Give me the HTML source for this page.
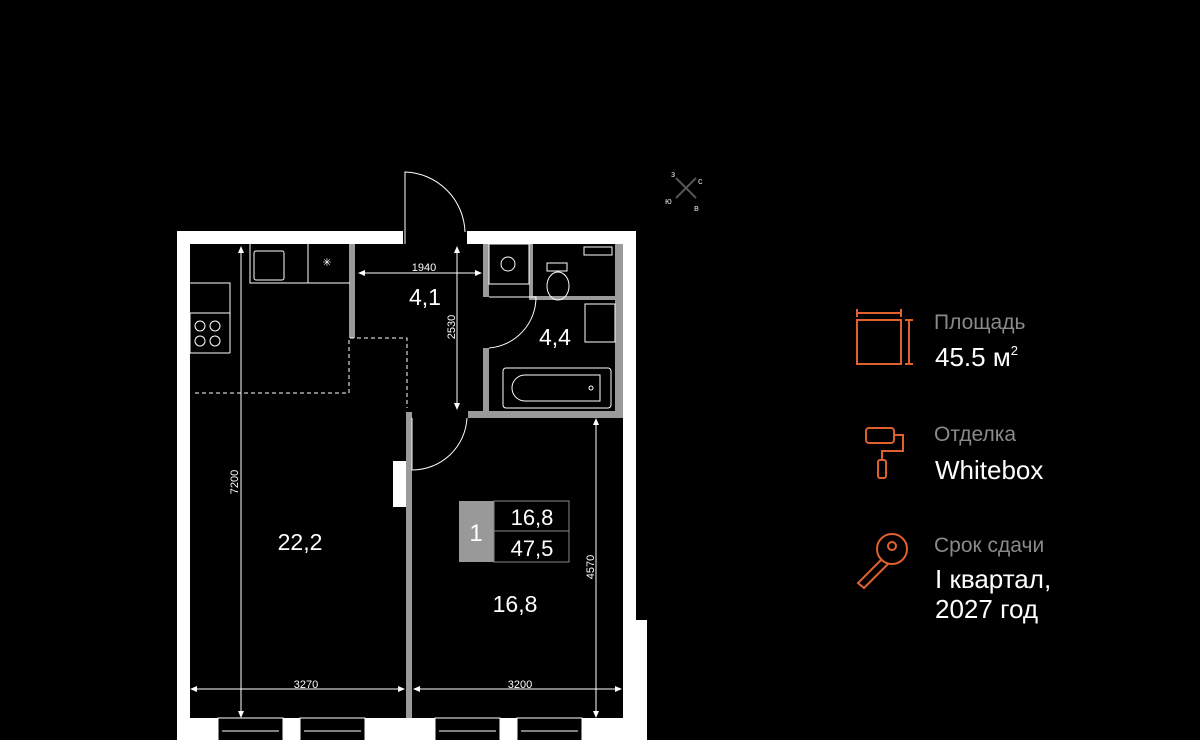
<!DOCTYPE html>
<html><head><meta charset="utf-8"><style>
html,body{margin:0;padding:0;background:#000;width:1200px;height:740px;overflow:hidden}
svg{display:block}
text{font-family:"Liberation Sans",sans-serif}
</style></head><body>
<svg width="1200" height="740" viewBox="0 0 1200 740" xmlns="http://www.w3.org/2000/svg">
<rect width="1200" height="740" fill="#000"/>
<g fill="#fff">
<rect x="177" y="231" width="226" height="13"/>
<rect x="467" y="231" width="169" height="13"/>
<rect x="177" y="231" width="13" height="509"/>
<rect x="623" y="231" width="13" height="389"/>
<rect x="623" y="620" width="24" height="120"/>
<rect x="177" y="718" width="470" height="22"/>
<rect x="393" y="461" width="13" height="46"/>
</g>
<g fill="#000" stroke="#fff" stroke-width="1">
<rect x="218" y="718" width="65" height="24"/>
<rect x="300" y="718" width="65" height="24"/>
<rect x="435" y="718" width="65" height="24"/>
<rect x="517" y="718" width="65" height="24"/>
<line x1="222" y1="731" x2="279" y2="731"/><line x1="304" y1="731" x2="361" y2="731"/>
<line x1="439" y1="731" x2="496" y2="731"/><line x1="521" y1="731" x2="578" y2="731"/>
</g>
<g fill="#9a9a9a">
<rect x="406" y="412" width="6" height="306"/>
<rect x="349" y="244" width="6" height="94"/>
<rect x="483" y="244" width="6" height="53"/>
<rect x="483" y="348" width="6" height="64"/>
<rect x="468" y="411" width="155" height="7"/>
<rect x="615" y="244" width="8" height="167"/>
<rect x="529" y="244" width="4" height="56"/>
<rect x="529" y="296" width="86" height="4"/>
</g>
<g fill="none" stroke="#fff" stroke-width="1">
<path d="M405 244 V172 A62 62 0 0 1 465 232"/>
<path d="M412 418 V470 A55 55 0 0 0 467 418"/>
<path d="M489 297 H536 A51 51 0 0 1 489 348"/>
<path d="M190 283 H230 V313 H190"/>
<path d="M250 244 V283 H350"/>
<path d="M308 244 V283"/>
<path d="M230 283 V353"/>
<rect x="254" y="251" width="30" height="29" rx="2"/>
<circle cx="200" cy="326" r="5"/><circle cx="215" cy="326" r="5"/>
<circle cx="200" cy="341" r="5"/><circle cx="215" cy="341" r="5"/>
<path d="M190 313 V353 H230" />
<path d="M350 338 H407 V408" stroke-dasharray="4 3"/>
<path d="M195 393 H349 V338" stroke-dasharray="4 3"/>
<rect x="489" y="244" width="40" height="40"/>
<circle cx="508" cy="264" r="7"/>
<rect x="584" y="247" width="28" height="8"/>
<rect x="547" y="263" width="20" height="8"/>
<ellipse cx="558" cy="286" rx="11" ry="14"/>
<rect x="585" y="304" width="30" height="38"/>
<rect x="503" y="368" width="108" height="40" rx="3"/>
<path d="M525 375 H600 V401 H525 A13 13 0 0 1 525 375Z"/>
<circle cx="591" cy="388" r="2"/>
</g>
<text x="327" y="266" fill="#fff" font-size="11" text-anchor="middle">✳</text>
<g stroke="#fff" stroke-width="1" fill="#fff">
<line x1="241" y1="248" x2="241" y2="716"/>
<line x1="360" y1="273" x2="480" y2="273"/>
<line x1="457" y1="248" x2="457" y2="408"/>
<line x1="192" y1="689" x2="404" y2="689"/>
<line x1="414" y1="689" x2="621" y2="689"/>
<line x1="596" y1="420" x2="596" y2="716"/>
</g>
<g fill="#fff">
<path d="M241 246 l-3 7 h6z M241 718 l-3 -7 h6z M358 273 l7 -3 v6z M482 273 l-7 -3 v6z M457 246 l-3 7 h6z M457 410 l-3 -7 h6z M190 689 l7 -3 v6z M405 689 l-7 -3 v6z M413 689 l7 -3 v6z M622 689 l-7 -3 v6z M596 418 l-3 7 h6z M596 718 l-3 -7 h6z"/>
</g>
<g fill="#fff" font-size="11">
<text x="424" y="271" text-anchor="middle">1940</text>
<text x="306" y="688" text-anchor="middle">3270</text>
<text x="520" y="688" text-anchor="middle">3200</text>
<text transform="translate(238,482) rotate(-90)" text-anchor="middle">7200</text>
<text transform="translate(455,327) rotate(-90)" text-anchor="middle">2530</text>
<text transform="translate(594,567) rotate(-90)" text-anchor="middle">4570</text>
</g>
<g fill="#fff" font-size="23">
<text x="425" y="305" text-anchor="middle">4,1</text>
<text x="555" y="345" text-anchor="middle">4,4</text>
<text x="300" y="550" text-anchor="middle">22,2</text>
<text x="515" y="612" text-anchor="middle">16,8</text>
</g>
<rect x="459" y="501" width="35" height="61" fill="#999"/>
<rect x="494" y="501" width="75" height="61" fill="none" stroke="#888" stroke-width="1"/>
<line x1="494" y1="531" x2="569" y2="531" stroke="#888"/>
<g fill="#fff" font-size="22">
<text x="476" y="541" text-anchor="middle" font-size="24">1</text>
<text x="532" y="525" text-anchor="middle">16,8</text>
<text x="532" y="556" text-anchor="middle">47,5</text>
</g>
<g stroke="#555" stroke-width="2"><line x1="676" y1="178" x2="696" y2="198"/><line x1="696" y1="178" x2="676" y2="198"/></g>
<g fill="#ddd" font-size="9"><text x="671" y="177">з</text><text x="698" y="184">с</text><text x="665" y="204">ю</text><text x="694" y="211">в</text></g>
<g fill="none" stroke="#e0602e" stroke-width="2">
<rect x="857" y="320" width="44" height="44"/>
<path d="M857 313 H901 M857 309 V317 M901 309 V317"/>
<path d="M909 320 V364 M905 320 H913 M905 364 H913"/>
<rect x="866" y="428" width="28" height="15" rx="3"/>
<path d="M894 435 H903 V451 H882 V460"/>
<rect x="878" y="460" width="8" height="18" rx="2"/>
<circle cx="892" cy="549" r="15"/>
<circle cx="892" cy="546" r="4"/>
<path d="M882 559 L858 583 L864 588 L888 564"/>
</g>
<g>
<text x="934" y="329" fill="#8a8a8a" font-size="21">Площадь</text>
<text x="935" y="366" fill="#fff" font-size="26">45.5 м<tspan font-size="13" dy="-11">2</tspan></text>
<text x="934" y="441" fill="#8a8a8a" font-size="21">Отделка</text>
<text x="935" y="479" fill="#fff" font-size="26">Whitebox</text>
<text x="934" y="552" fill="#8a8a8a" font-size="21">Срок сдачи</text>
<text x="935" y="588" fill="#fff" font-size="26">I квартал,</text>
<text x="935" y="618" fill="#fff" font-size="26">2027 год</text>
</g>
</svg>
</body></html>
